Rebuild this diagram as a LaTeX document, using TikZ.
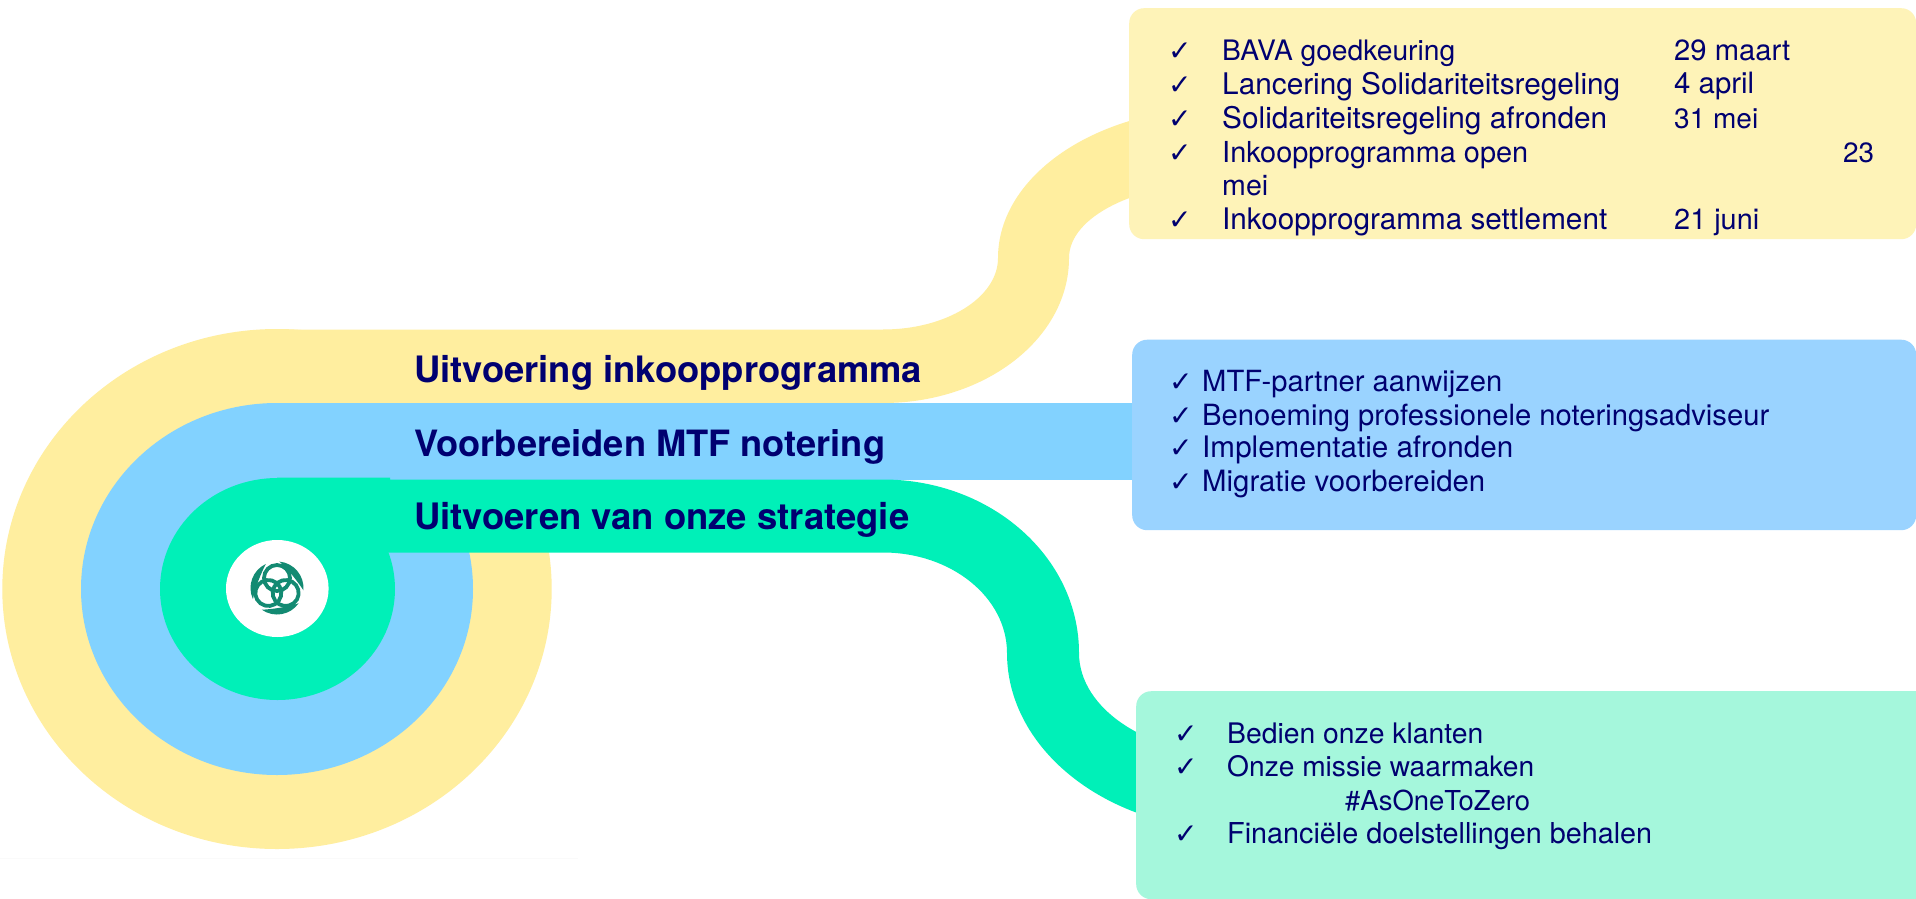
\documentclass[tikz,border=0pt]{standalone}
\usepackage{fontspec}
\setmainfont{TeX Gyre Heros}
\newfontfamily\chkfont{DejaVu Sans}
\definecolor{bandY}{HTML}{FFEE9F}
\definecolor{bandB}{HTML}{82D2FF}
\definecolor{bandG}{HTML}{00F0B8}
\definecolor{boxY}{HTML}{FEF3B8}
\definecolor{boxB}{HTML}{9AD3FF}
\definecolor{boxG}{HTML}{A5F7DC}
\definecolor{navy}{HTML}{000070}
\definecolor{logoteal}{HTML}{138A72}
\newcommand{\fitw}[2]{\resizebox{#1pt}{!}{#2}}
\tikzset{
  panel/.style={fill=#1,rounded corners=15pt,inner sep=0pt,anchor=north west},
  head/.style={anchor=base west,inner sep=0pt,text=navy,font=\fontsize{34}{40}\selectfont\bfseries},
  item/.style={anchor=base west,inner sep=0pt,text=navy,font=\fontsize{26}{30}\selectfont},
  tick/.style={anchor=base west,inner sep=0pt,text=navy,font=\fontsize{28}{30}\selectfont\chkfont},
}
\begin{document}
\begin{tikzpicture}[x=1pt,y=1pt,yscale=-1]
\useasboundingbox (0,0) rectangle (1916,899);
\fill[white] (0,0) rectangle (1916,899);
\fill[black!2] (0,857.5) rectangle (578,858.5);
% rings
\fill[bandY] (277,589) ellipse[x radius=274.7pt,y radius=260pt];
\fill[bandB] (277,589) ellipse[x radius=196pt,y radius=186pt];
% yellow band and swoosh
\fill[bandY] (277,329.5) -- (883,329.5)
  arc[start angle=90,end angle=0,x radius=115pt,y radius=71.5pt]
  arc[start angle=180,end angle=270,x radius=222pt,y radius=150pt]
  -- (1220,183)
  arc[start angle=270,end angle=180,x radius=151pt,y radius=75pt]
  arc[start angle=0,end angle=90,x radius=186pt,y radius=145pt]
  -- (277,403) -- cycle;
% blue band
\fill[bandB] (277,403) -- (1140,403) -- (1140,479.5) -- (277,479.5) -- cycle;
% green disc, band and swoosh
\fill[bandG] (277.5,589) ellipse[x radius=117.5pt,y radius=111pt];
\fill[bandG] (277,477.6) -- (390,477.6) -- (390,479.5) -- (883,479.5)
  arc[start angle=-90,end angle=0,x radius=196pt,y radius=173.5pt]
  arc[start angle=180,end angle=90,x radius=156pt,y radius=102pt]
  -- (1235,830)
  arc[start angle=90,end angle=180,x radius=228pt,y radius=177pt]
  arc[start angle=0,end angle=-90,x radius=124pt,y radius=100.5pt]
  -- (388,552.5) -- (300,560) -- cycle;
% logo disc
\fill[white] (277.3,588.5) ellipse[x radius=51.3pt,y radius=48.5pt];
% logo
\begin{scope}[shift={(277,588)},logoteal]
  \foreach \a in {0,120,240}{
    \begin{scope}[rotate=\a]
      \draw[line width=3.8pt] (0,-10) circle[radius=13pt];
      \fill (-85:26.5) arc[start angle=-85,end angle=5,radius=26.5pt]
        .. controls (-12:22.5) and (-62:22.5) .. cycle;
    \end{scope}
  }
\end{scope}
% panels
\node[panel=boxY,minimum width=787pt,minimum height=231pt] (boxyellow) at (1129,8) {};
\node[panel=boxB,minimum width=784pt,minimum height=190.5pt] (boxblue) at (1132,339.5) {};
\node[panel=boxG,minimum width=840pt,minimum height=208pt] (boxgreen) at (1136,691) {};
% headings
\node[head] (h1) at (414,382) {\fitw{508}{Uitvoering inkoopprogramma}};
\node[head] (h2) at (414,456.6) {\fitw{471}{Voorbereiden MTF notering}};
\node[head] (h3) at (414,529.6) {\fitw{495}{Uitvoeren van onze strategie}};
% yellow list
\foreach \n/\y in {a/60,b/94,c/128,d/162,e/229}{\node[tick] (ty\n) at (1168,\y) {✓};}
\node[item] (y1) at (1222,60) {\fitw{233}{BAVA goedkeuring}};
\node[item] (y2) at (1222,94) {\fitw{398}{Lancering Solidariteitsregeling}};
\node[item] (y3) at (1222,128) {\fitw{385}{Solidariteitsregeling afronden}};
\node[item] (y4) at (1222,162) {\fitw{306}{Inkoopprogramma open}};
\node[item] (y5) at (1222,195) {\fitw{46}{mei}};
\node[item] (y6) at (1222,229) {\fitw{385}{Inkoopprogramma settlement}};
\node[item] (d1) at (1674,60) {\fitw{116}{29 maart}};
\node[item] (d2) at (1674,94) {\fitw{80}{4 april}};
\node[item] (d3) at (1674,128) {\fitw{84}{31 mei}};
\node[item] (d4) at (1843,162) {\fitw{31}{23}};
\node[item] (d6) at (1674,229) {\fitw{85}{21 juni}};
% blue list
\foreach \n/\y in {a/391,b/425,c/457,d/491}{\node[tick] (tb\n) at (1169,\y) {✓};}
\node[item] (b1) at (1202,391) {\fitw{300}{MTF-partner aanwijzen}};
\node[item] (b2) at (1202,425) {\fitw{567}{Benoeming professionele noteringsadviseur}};
\node[item] (b3) at (1202,457.5) {\fitw{311}{Implementatie afronden}};
\node[item] (b4) at (1202,491) {\fitw{283}{Migratie voorbereiden}};
% green list
\foreach \n/\y in {a/743,b/776,c/843}{\node[tick] (tg\n) at (1174,\y) {✓};}
\node[item] (g1) at (1227,743) {\fitw{256}{Bedien onze klanten}};
\node[item] (g2) at (1227,776) {\fitw{307}{Onze missie waarmaken}};
\node[item] (g3) at (1345,810) {\fitw{185}{\#AsOneToZero}};
\node[item] (g4) at (1227,843) {\fitw{425}{Financiële doelstellingen behalen}};
\end{tikzpicture}
\end{document}
